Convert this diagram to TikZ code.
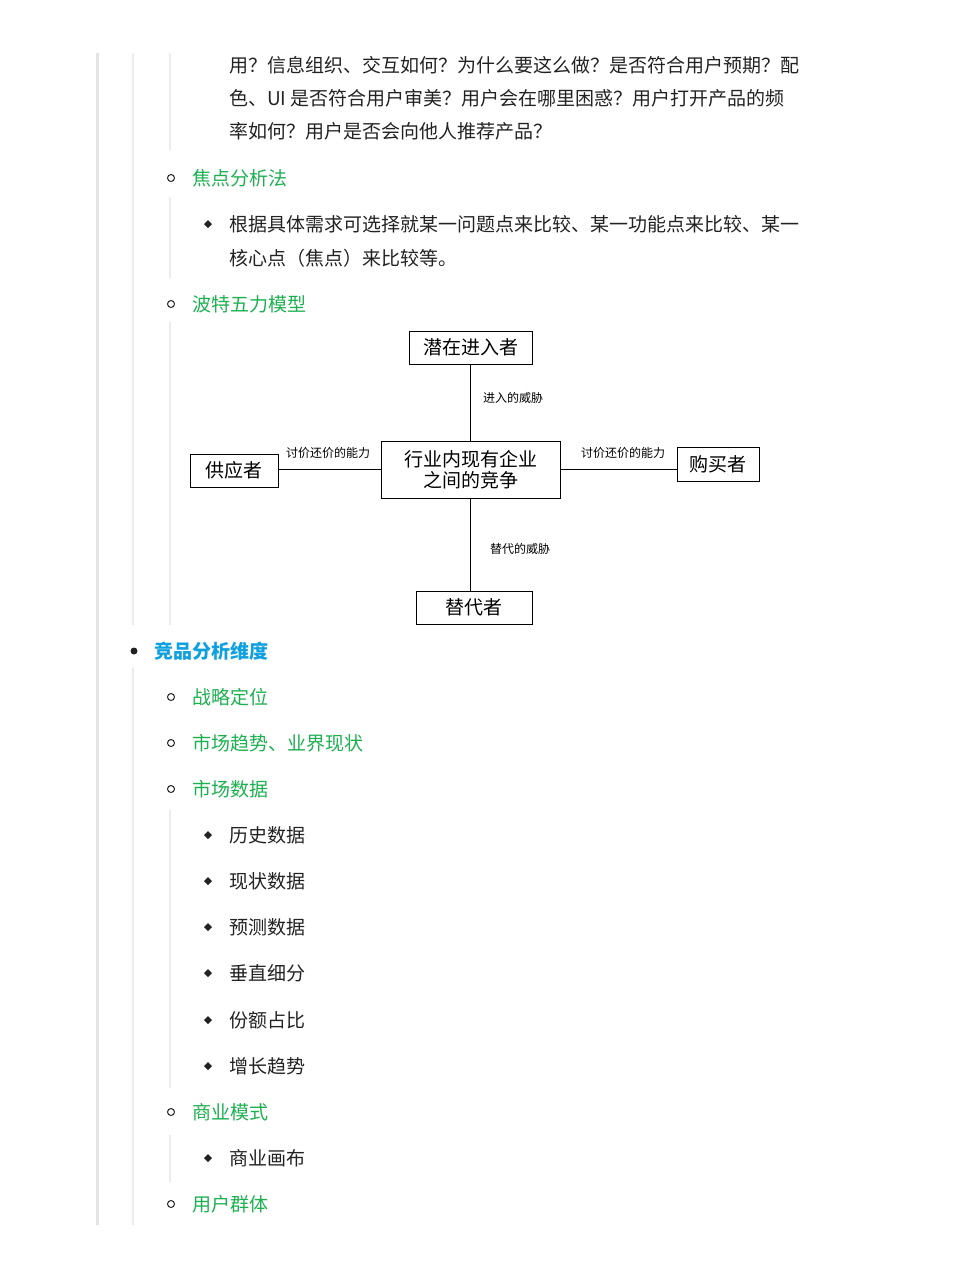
\documentclass[tikz,border=0pt]{standalone}
\usepackage{fontspec}
\setmainfont{Noto Sans CJK SC}
\usepackage{tikz}
\definecolor{linkgreen}{HTML}{1DB050}
\definecolor{headblue}{HTML}{0FA0DF}
\definecolor{bargray}{HTML}{E4E4E4}
\definecolor{textgray}{HTML}{222222}

\tikzset{
  body/.style={anchor=west,inner sep=0pt,text=textgray,font=\fontsize{19}{19}\selectfont},
  topic/.style={body,text=linkgreen},
  head/.style={body,text=headblue,font=\fontsize{19}{19}\selectfont\bfseries},
  forcebox/.style={draw,line width=1pt,inner sep=0pt,font=\fontsize{19}{21}\selectfont,align=center},
  tag/.style={inner sep=0pt,font=\fontsize{12}{12}\selectfont},
  bar/.style={bargray,line width=3pt},
  rule/.style={bargray!70,line width=2pt},
}

\begin{document}
\begin{tikzpicture}[x=1pt,y=-1pt]
\useasboundingbox (0,0) rectangle (957,1280);

%bars on the left
\draw [bar] (97,53) -- (97,1225);
\draw [rule] (133,53) -- (133,625);
\draw [rule] (133,668) -- (133,1225);
\draw [rule] (170,53) -- (170,150);
\draw [rule] (170,197) -- (170,278);
\draw [rule] (170,322) -- (170,625);
\draw [rule] (170,810) -- (170,1088);
\draw [rule] (170,1135) -- (170,1182);

% Text Node
\node [body] (p1) at (229,65) {用？信息组织、交互如何？为什么要这么做？是否符合用户预期？配};
\node [body] (p2) at (229,98) {色、UI 是否符合用户审美？用户会在哪里困惑？用户打开产品的频};
\node [body] (p3) at (229,131) {率如何？用户是否会向他人推荐产品？};

\foreach \y/\t in {178/焦点分析法,304/波特五力模型,697/战略定位,743/市场趋势、业界现状,789/市场数据,1112/商业模式,1204/用户群体}
  {\draw [textgray,line width=1pt] (171,\y) circle (3.5);
   \node [topic] at (192,\y) {\t};}

\foreach \y/\t in {224/根据具体需求可选择就某一问题点来比较、某一功能点来比较、某一,835/历史数据,881/现状数据,927/预测数据,973/垂直细分,1020/份额占比,1066/增长趋势,1158/商业画布}
  {\fill [textgray] (208,\y-4) -- (212,\y) -- (208,\y+4) -- (204,\y) -- cycle;
   \node [body] at (229,\y) {\t};}
\node [body] (p4) at (229,258) {核心点（焦点）来比较等。};

\fill [textgray] (134,651) circle (3.5);
\node [head] (dim) at (154,651) {竞品分析维度};

%Porter diagram
\node [forcebox,minimum width=123,minimum height=33] (entrant) at (470.5,347.5) {潜在进入者};
\node [forcebox,minimum width=179,minimum height=57] (rivalry) at (470.5,469.5) {行业内现有企业\\之间的竞争};
\node [forcebox,minimum width=88,minimum height=33] (supplier) at (234,470.5) {供应者};
\node [forcebox,minimum width=82,minimum height=34] (buyer) at (718,464) {购买者};
\node [forcebox,minimum width=116,minimum height=33] (substitute) at (474,607.5) {替代者};

\draw [line width=1pt] (entrant.south -| rivalry.north) -- (rivalry.north);
\draw [line width=1pt] (rivalry.south) -- (rivalry.south |- substitute.north);
\draw [line width=1pt] (supplier.east |- rivalry.west) -- (rivalry.west);
\draw [line width=1pt] (rivalry.east) -- (buyer.west |- rivalry.east);

\node [tag] (tEntry) at (513,398) {进入的威胁};
\node [tag] (tSub) at (520,549) {替代的威胁};
\node [tag] (tSup) at (328,453) {讨价还价的能力};
\node [tag] (tBuy) at (623,453) {讨价还价的能力};
\end{tikzpicture}
\end{document}
